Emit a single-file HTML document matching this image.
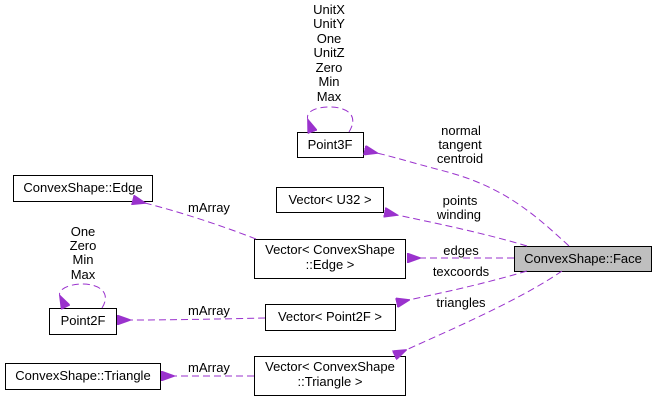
<!DOCTYPE html>
<html><head><meta charset="utf-8"><style>
html,body{margin:0;padding:0;background:#fff;width:659px;height:402px;overflow:hidden}
text{font-family:"Liberation Sans",Arial,sans-serif;font-size:13px;fill:#000}
.b{fill:#fff;stroke:#000;stroke-width:1}
.e{fill:none;stroke:#9a32cd;stroke-width:1;stroke-dasharray:7,4}
.a{fill:#9a32cd;stroke:#9a32cd}
</style></head><body>
<svg width="659" height="402" viewBox="0 0 659 402" xmlns="http://www.w3.org/2000/svg">
<defs><marker id="m" markerWidth="14" markerHeight="10" refX="1" refY="5" orient="auto-start-reverse" markerUnits="userSpaceOnUse"><path d="M14,0 L0,5 L14,10 z" class="a"/></marker></defs>

<rect class="b" x="297.5" y="132.5" width="66" height="25"/><text x="330" y="149" text-anchor="middle">Point3F</text>
<rect class="b" x="276.5" y="187.5" width="107" height="25"/><text x="330" y="204" text-anchor="middle">Vector&lt; U32 &gt;</text>
<rect class="b" x="13.5" y="175.5" width="139" height="26"/><text x="83" y="192" text-anchor="middle">ConvexShape::Edge</text>
<rect class="b" x="254.5" y="239.5" width="151" height="39"/><text x="330" y="254" text-anchor="middle">Vector&lt; ConvexShape</text><text x="330" y="269" text-anchor="middle">::Edge &gt;</text>
<rect x="514.5" y="246.5" width="137" height="25" fill="#bfbfbf" stroke="#000"/><text x="583" y="263" text-anchor="middle">ConvexShape::Face</text>
<rect class="b" x="49.5" y="308.5" width="67" height="26"/><text x="83" y="325" text-anchor="middle">Point2F</text>
<rect class="b" x="265.5" y="304.5" width="130" height="26"/><text x="330" y="321" text-anchor="middle">Vector&lt; Point2F &gt;</text>
<rect class="b" x="5.5" y="363.5" width="155" height="26"/><text x="83" y="380" text-anchor="middle">ConvexShape::Triangle</text>
<rect class="b" x="254.5" y="356.5" width="151" height="39"/><text x="330" y="371" text-anchor="middle">Vector&lt; ConvexShape</text><text x="330" y="386" text-anchor="middle">::Triangle &gt;</text>

<path class="e" marker-end="url(#m)" d="M569,246 C530,210 500,185 440,170 C410,162 390,156 377,153"/>
<path class="e" marker-end="url(#m)" d="M527,246 C480,232 430,222 397,215"/>
<path class="e" marker-end="url(#m)" d="M514,258 L420,258"/>
<path class="e" marker-end="url(#m)" d="M527,271 C480,285 440,293 409,300"/>
<path class="e" marker-end="url(#m)" d="M562,271 C520,300 450,330 406,350"/>
<path class="e" marker-end="url(#m)" d="M256,239 C220,225 180,212 145,203"/>
<path class="e" marker-end="url(#m)" d="M265,318 C220,319 170,320 130,320"/>
<path class="e" marker-end="url(#m)" d="M254,376 L174,376"/>
<path class="e" marker-end="url(#m)" d="M349,132 C360,114 345,107 330,107 C315,107 305,112 308,120"/>
<path class="e" marker-end="url(#m)" d="M102,308 C112,292 98,284 83,284 C68,284 57,290 60,296"/>

<text x="329" y="14" text-anchor="middle">UnitX</text>
<text x="329" y="28" text-anchor="middle">UnitY</text>
<text x="329" y="43" text-anchor="middle">One</text>
<text x="329" y="57" text-anchor="middle">UnitZ</text>
<text x="329" y="72" text-anchor="middle">Zero</text>
<text x="329" y="86" text-anchor="middle">Min</text>
<text x="329" y="101" text-anchor="middle">Max</text>
<text x="461" y="135" text-anchor="middle">normal</text>
<text x="460" y="149" text-anchor="middle">tangent</text>
<text x="460" y="163" text-anchor="middle">centroid</text>
<text x="460" y="205" text-anchor="middle">points</text>
<text x="459" y="219" text-anchor="middle">winding</text>
<text x="461" y="255" text-anchor="middle">edges</text>
<text x="461" y="276" text-anchor="middle">texcoords</text>
<text x="461" y="307" text-anchor="middle">triangles</text>
<text x="209" y="212" text-anchor="middle">mArray</text>
<text x="209" y="315" text-anchor="middle">mArray</text>
<text x="209" y="372" text-anchor="middle">mArray</text>
<text x="83" y="236" text-anchor="middle">One</text>
<text x="83" y="250" text-anchor="middle">Zero</text>
<text x="83" y="264" text-anchor="middle">Min</text>
<text x="83" y="279" text-anchor="middle">Max</text>
</svg>
</body></html>
